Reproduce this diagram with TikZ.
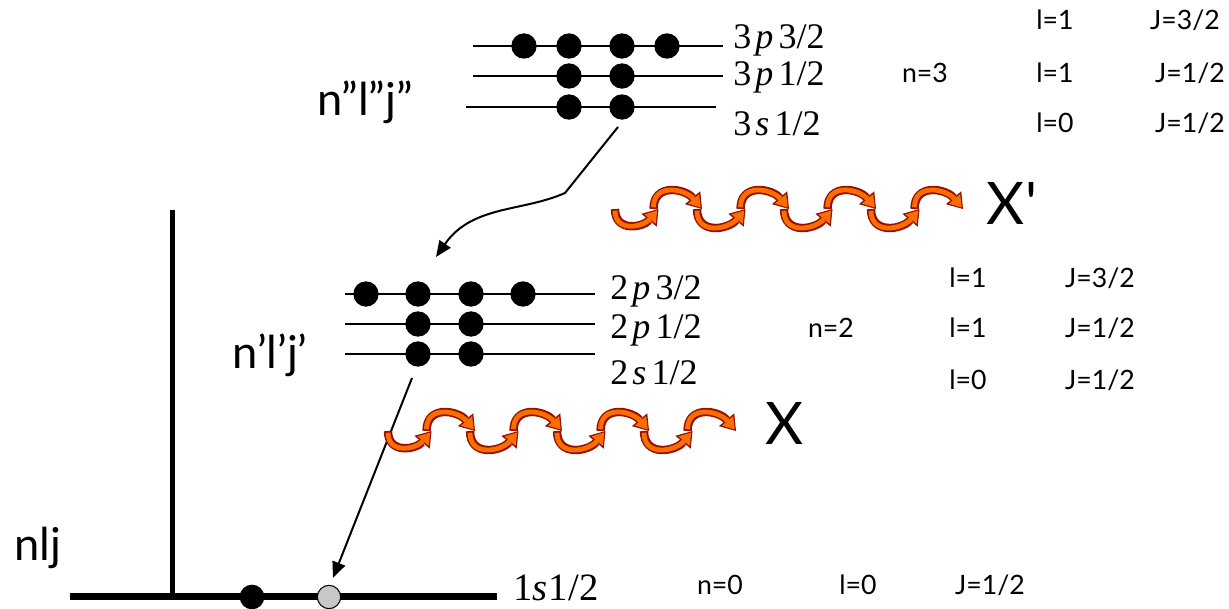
\documentclass[tikz,border=0pt]{standalone}
\usepackage{fontspec}
\setmainfont{Liberation Serif}
\newfontfamily\lab{Lato}
\usetikzlibrary{arrows.meta}
\definecolor{wavered}{RGB}{150,15,0}
\definecolor{waveorange}{RGB}{250,110,0}
\newcommand{\drawwave}[2]{%
  \foreach \k in {7,6,...,0}{%
    \pgfmathsetmacro{\xs}{#1+43.5*\k-ifthenelse(\k>0,5,0)}%
    \pgfmathsetmacro{\xe}{#1+43.5*(\k+1)}%
    \pgfmathsetmacro{\oa}{ifthenelse(mod(\k,2)==0,-90,90)}%
    \pgfmathsetmacro{\ia}{ifthenelse(mod(\k,2)==0,-130,130)}%
    \draw[waveout] (\xs,-#2) to[out=\oa,in=\ia,looseness=1.4] (\xe,-#2);
    \draw[wavein] (\xs,-#2) to[out=\oa,in=\ia,looseness=1.4] (\xe,-#2);
  }}
\begin{document}
\begin{tikzpicture}[x=0.75pt,y=0.75pt,
  level/.style={line width=1.5pt},
  edot/.style={circle,fill=black,minimum size=19pt,inner sep=0pt},
  lvlab/.style={anchor=west,inner sep=0pt,font=\fontsize{27}{27}\selectfont},
  qn/.style={inner sep=0pt,font=\lab\fontsize{20}{20}\selectfont},
  big/.style={inner sep=0pt,font=\lab\fontsize{34}{34}\selectfont},
  xlab/.style={inner sep=0pt,font=\lab\fontsize{44}{44}\selectfont},
  trans/.style={line width=1.5pt,-{Triangle[length=12pt,width=10pt]}},
  waveout/.style={line width=6.3pt,draw=wavered,-{Triangle[length=11pt,width=15pt,line width=0pt]}},
  wavein/.style={line width=3.6pt,draw=waveorange,shorten >=1.5pt,shorten <=1.3pt,-{Triangle[length=8.4pt,width=11pt,line width=0pt]}}
]
\useasboundingbox (0,0) rectangle (1229,-609);

% ---- n=3 levels
\draw[level] (473,-46) -- (723,-46);
\draw[level] (473,-76) -- (723,-76);
\draw[level] (466,-107) -- (716,-107);
\node[edot] (t1) at (524,-46) {};
\node[edot] (t2) at (569,-46) {};
\node[edot] (t3) at (622,-46) {};
\node[edot] (t4) at (667,-46) {};
\node[edot] (u1) at (569,-76) {};
\node[edot] (u2) at (622,-76) {};
\node[edot] (v1) at (569,-107) {};
\node[edot] (v2) at (622,-107) {};
\node[lvlab] (l3p3) at (733,-40) {3\kern3pt\textit{p}\kern4pt3/2};
\node[lvlab] (l3p1) at (733,-77) {3\kern3pt\textit{p}\kern4pt1/2};
\node[lvlab] (l3s1) at (733,-124) {3\kern3pt\textit{s}\kern4pt1/2};
\node[big] (nll) at (365,-102) {n”l”j”};

% ---- n=2 levels
\draw[level] (345,-294) -- (595,-294);
\draw[level] (345,-324) -- (595,-324);
\draw[level] (345,-354) -- (595,-354);
\node[edot] (p1) at (366,-294) {};
\node[edot] (p2) at (418,-294) {};
\node[edot] (p3) at (471,-294) {};
\node[edot] (p4) at (523,-294) {};
\node[edot] (q1) at (418,-324) {};
\node[edot] (q2) at (471,-324) {};
\node[edot] (r1) at (418,-354) {};
\node[edot] (r2) at (471,-354) {};
\node[lvlab] (l2p3) at (610,-291) {2\kern3pt\textit{p}\kern4pt3/2};
\node[lvlab] (l2p1) at (610,-330) {2\kern3pt\textit{p}\kern4pt1/2};
\node[lvlab] (l2s1) at (610,-373) {2\kern3pt\textit{s}\kern4pt1/2};
\node[big] (nl) at (270,-355) {n’l’j’};

% ---- ground level
\draw[line width=3.75pt] (172,-210) -- (172,-597);
\draw[line width=5.25pt] (70,-597) -- (497,-597);
\node[edot,minimum size=18.5pt] (g1) at (252,-597) {};
\node[circle,fill=black!22,draw=black,line width=0.8pt,minimum size=17.5pt,inner sep=0pt] (g2) at (329,-597) {};
\node[lvlab,font=\fontsize{29}{29}\selectfont] (l1s) at (513,-588) {1\textit{s}\kern1pt1/2};
\node[big] (nlj) at (38,-548) {nlj};

% ---- quantum numbers
\node[qn] at (1055,-20) {l=1};
\node[qn] at (1185,-20) {J=3/2};
\node[qn] at (925,-73) {n=3};
\node[qn] at (1055,-73) {l=1};
\node[qn] at (1190,-73) {J=1/2};
\node[qn] at (1055,-123) {l=0};
\node[qn] at (1190,-123) {J=1/2};
\node[qn] at (968,-278) {l=1};
\node[qn] at (1100,-278) {J=3/2};
\node[qn] at (831,-328) {n=2};
\node[qn] at (968,-328) {l=1};
\node[qn] at (1100,-328) {J=1/2};
\node[qn] at (968,-380) {l=0};
\node[qn] at (1100,-380) {J=1/2};
\node[qn] at (720,-585) {n=0};
\node[qn] at (858,-585) {l=0};
\node[qn] at (990,-585) {J=1/2};

% ---- transitions
\coordinate (a1s) at (618,-127);
\coordinate (a1k) at (565,-193);
\coordinate (a1e) at (436,-257);
\draw[trans] (a1s) -- (a1k) .. controls (522,-212) and (472,-205) .. (a1e);
\coordinate (a2s) at (412,-378);
\coordinate (a2e) at (333,-578);
\draw[trans] (a2s) -- (a2e);

% ---- photons
\drawwave{615}{209}
\drawwave{388}{431}
\node[xlab] (xp) at (1012,-203) {X{\char"27}};
\node[xlab] (x) at (785,-423) {X};
\end{tikzpicture}
\end{document}
